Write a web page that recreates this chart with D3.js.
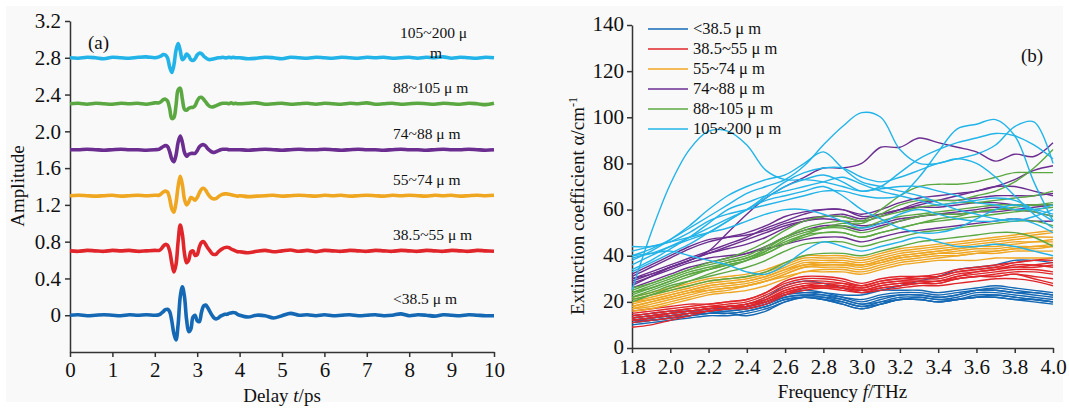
<!DOCTYPE html>
<html>
<head>
<meta charset="utf-8">
<script src="https://cdn.jsdelivr.net/npm/d3@7"></script>
<style>
  body { margin: 0; background: #ffffff; }
  svg text { font-family: "Liberation Serif", "Times New Roman", serif; fill: #111; }
</style>
</head>
<body>
<div id="chart-area"></div>
<script>
// ---------- panel (a): time-domain traces ----------
var delayT = [].concat(d3.range(0, 2.01, 0.2), d3.range(2.1, 4.001, 0.05), d3.range(4.2, 10.001, 0.2));
var traceNames = ["<38.5 μ m", "38.5~55 μ m", "55~74 μ m", "74~88 μ m", "88~105 μ m", "105~200 μ m"];
var baselines = [0, 0.7, 1.3, 1.8, 2.3, 2.8];

var ampBlue = [0,0.005,-0.005,0,0.005,0,-0.005,0.005,0,0.005,0,
  0.005,0.02,0.04,0.06,0.065,0.04,-0.06,-0.2,-0.27,-0.1,0.2,0.31,0.2,-0.05,-0.18,-0.15,-0.02,0.0,-0.06,-0.07,0.03,0.1,0.11,0.08,0.04,0.0,-0.03,-0.04,-0.03,-0.01,0.0,0.01,0.01,0.02,0.025,0.03,0.025,0.01,0.0,
  -0.02,0.0,-0.005,-0.03,-0.005,0.02,0.0,0.005,-0.005,0.005,-0.005,0.0,0.005,-0.005,0.0,0.005,-0.005,0.0,0.015,-0.005,0.005,0.0,-0.01,0.005,0.0,-0.005,0.005,0.0,-0.005,-0.005];
var ampRed = [0,-0.005,0.005,0,-0.005,0.005,0,0.005,-0.005,0,0.005,
  0.005,0.02,0.05,0.07,0.06,0.0,-0.13,-0.23,-0.15,0.1,0.28,0.18,-0.03,-0.13,-0.1,-0.01,0.0,-0.05,-0.04,0.04,0.09,0.1,0.07,0.03,0.0,-0.03,-0.04,-0.035,-0.01,0.01,0.025,0.035,0.04,0.035,0.02,0.01,0.0,-0.01,-0.01,
  -0.02,-0.005,0.005,-0.01,0.0,0.01,-0.005,0.005,-0.01,0.005,0.0,-0.005,0.005,0.0,-0.005,0.005,0.0,-0.005,0.005,0.0,-0.005,0.005,0.0,-0.005,0.005,0.0,-0.005,0.005,0.0,-0.005];
var ampOrange = [0,0.005,0,-0.005,0,0.005,-0.005,0,0.005,0,0.005,
  0.005,0.02,0.04,0.05,0.04,-0.03,-0.14,-0.18,-0.08,0.1,0.21,0.12,-0.04,-0.1,-0.07,-0.02,-0.03,-0.05,-0.02,0.03,0.07,0.08,0.06,0.02,-0.01,-0.03,-0.035,-0.03,-0.01,0.005,0.015,0.02,0.02,0.015,0.01,0.005,0.0,-0.005,0.0,
  -0.01,-0.005,0,0.005,-0.005,0,0.005,0,-0.005,0.005,0,0.005,-0.005,0,0.005,0,-0.005,0.005,0,0.005,0,-0.005,0.005,0,0.005,-0.005,0,0.005,0,0.005];
var ampPurple = [0,0,0.005,0,-0.005,0,0.005,0,0,-0.005,0,
  0.005,0.02,0.035,0.045,0.035,-0.02,-0.1,-0.13,-0.06,0.08,0.15,0.08,-0.03,-0.07,-0.05,-0.04,-0.04,-0.04,-0.01,0.03,0.05,0.055,0.04,0.01,-0.01,-0.025,-0.03,-0.02,-0.01,0.0,0.005,0.005,0.005,0.0,0.0,0.0,0.0,0.0,0.0,
  -0.005,0,0.005,0,-0.005,0,0.005,0,0,0.005,0,-0.005,0,0.005,0,0,-0.005,0,0.005,0,0,-0.005,0,0.005,0,0,0.005,0,-0.005,0];
var ampGreen = [0,0.005,-0.005,0.005,0,-0.005,0.005,0,0.005,-0.005,0.01,
  0.01,0.025,0.045,0.05,0.03,-0.05,-0.16,-0.15,-0.02,0.15,0.17,0.05,-0.06,-0.07,-0.05,-0.04,-0.04,-0.02,0.03,0.065,0.07,0.05,0.02,-0.01,-0.03,-0.035,-0.03,-0.02,-0.01,0.0,0.005,0.005,0.005,0.0,0.01,0.0,0.005,0.0,0.0,
  0.005,0.01,-0.005,0,0.005,-0.005,0,0.005,-0.005,0.005,0,-0.005,0.005,0,0.01,-0.005,0,0.005,-0.005,0,0.005,0,-0.005,0.005,0,-0.005,0.005,0,-0.01,0.005];
var ampCyan = [0,-0.005,0.005,0,-0.01,0.005,0,-0.005,0.005,0.01,0.0,
  0.01,0.02,0.035,0.03,0.0,-0.1,-0.16,-0.08,0.08,0.155,0.08,-0.02,0.0,0.04,0.02,-0.02,-0.03,-0.01,0.03,0.05,0.045,0.02,0.0,-0.015,-0.02,-0.015,-0.01,-0.005,0.0,0.0,0.005,0.0,0.0,0.005,0.0,0.005,0.0,0.0,0.0,
  -0.01,-0.005,0.005,0,-0.01,0.005,0,-0.005,0.005,0,-0.005,0.005,0,-0.005,0.005,0,0.005,-0.005,0,0.005,-0.005,0.005,0,0.01,-0.005,0.005,0,-0.005,0.005,0];
var traces = [ampBlue, ampRed, ampOrange, ampPurple, ampGreen, ampCyan];

var groupColors = ["#1468b4", "#e0262b", "#efa621", "#6b2d90", "#5ba843", "#22b4e8"];

// ---------- panel (b): extinction coefficient ----------
var freqT = d3.range(1.8, 4.001, 0.1);
var extBlue = [
  [11,12,13,14,15,15,16,18,21,22,21,19,17,19,21,21,20,21,23,23,22,21,20],
  [12,13,14,15,16,16,17,19,22,23,22,20,18,20,22,22,21,22,24,24,23,22,21],
  [13,14,15,16,16,17,18,20,23,24,23,21,19,21,23,23,22,23,25,25,24,23,22],
  [14,15,16,16,17,17,18,20,23,25,24,22,20,22,23,23,22,23,25,26,25,24,23],
  [10,11,12,13,14,14,15,17,20,22,21,19,17,19,21,21,20,21,22,22,21,20,19],
  [12,13,14,15,15,15,14,16,20,22,22,21,19,20,21,22,21,21,22,22,21,21,20],
  [13,14,15,16,17,18,19,22,27,29,28,26,24,25,25,25,24,25,26,27,26,25,24],
  [11,12,13,14,15,16,17,19,22,23,23,22,21,23,24,24,23,24,25,25,24,24,23],
  [12,13,14,15,16,17,18,20,23,24,24,23,23,25,27,29,31,34,35,36,38,38,37],
  [12,12,13,14,15,15,16,18,21,22,21,20,18,19,21,21,20,21,22,23,22,21,20]
];
var extRed = [
  [9,10,12,14,16,17,18,21,25,27,27,26,24,26,27,28,28,30,31,32,33,33,32],
  [11,12,13,15,16,17,18,20,24,26,27,26,25,27,28,28,28,30,31,31,32,31,30],
  [13,14,15,16,17,18,19,22,26,28,28,27,26,28,29,29,29,31,32,33,34,34,33],
  [14,15,16,17,18,19,20,23,27,29,29,28,26,28,29,30,30,32,33,34,36,36,35],
  [15,16,17,18,19,20,21,24,28,30,30,29,27,29,30,31,31,33,34,35,37,38,39],
  [12,13,14,15,16,17,17,19,23,26,27,27,25,26,27,28,29,30,31,31,32,30,28],
  [16,17,18,19,19,20,21,24,29,31,31,30,28,30,31,31,32,34,35,36,37,38,38],
  [12,13,15,16,17,18,19,21,24,26,26,25,24,25,26,27,27,28,29,30,30,29,27],
  [14,15,16,17,18,18,19,21,25,27,28,28,27,29,30,30,31,33,34,35,35,36,37],
  [13,14,15,16,17,18,18,20,23,25,26,26,25,27,28,29,29,31,33,34,35,35,36]
];
var extOrange = [
  [16,17,19,21,23,24,25,27,30,33,33,33,32,34,36,37,38,38,38,39,39,39,39],
  [17,19,21,23,25,26,27,29,32,35,35,35,34,36,38,39,40,40,41,41,42,42,42],
  [18,20,22,24,26,27,28,30,33,36,36,36,35,37,39,40,41,42,43,43,44,44,45],
  [19,21,23,25,27,28,29,31,34,37,37,37,36,38,40,41,42,43,44,45,46,46,47],
  [20,22,24,26,28,29,30,32,35,38,38,38,37,39,41,42,43,44,45,46,47,48,48],
  [21,23,25,27,29,30,31,33,36,39,39,39,38,40,42,43,44,45,46,47,48,49,50],
  [22,24,26,28,30,31,32,34,37,40,40,40,39,41,43,44,45,46,47,48,49,50,51],
  [18,20,22,24,25,26,27,29,31,33,34,34,33,35,37,38,39,40,41,42,43,43,44],
  [20,21,23,25,27,28,29,31,34,36,37,37,36,38,40,41,42,43,44,44,45,46,46],
  [17,18,20,22,24,25,27,29,32,35,36,36,36,37,39,40,41,41,42,42,43,44,44]
];
var extPurple = [
  [30,32,35,38,42,50,58,65,70,74,78,78,80,87,87,91,89,87,85,81,84,83,89],
  [30,33,36,39,42,45,48,52,55,58,60,60,58,60,63,65,66,67,68,70,73,77,79],
  [27,31,35,38,41,43,45,48,52,55,57,58,56,58,60,61,61,62,63,63,62,62,62],
  [26,29,32,35,37,39,41,44,48,51,53,53,51,53,55,57,58,59,60,61,60,59,57],
  [32,36,40,44,47,48,49,51,54,56,57,57,55,57,60,63,64,64,65,66,66,66,67],
  [28,31,34,37,39,40,41,43,45,47,48,48,46,48,50,51,52,53,54,55,56,55,55],
  [31,35,39,43,46,48,50,53,57,59,60,60,57,58,60,62,64,66,68,70,70,68,66],
  [29,32,35,38,41,44,47,50,53,55,56,55,53,54,56,57,58,58,59,59,60,61,62]
];
var extGreen = [
  [21,23,25,27,29,30,31,33,37,40,41,41,40,42,44,46,47,48,49,50,50,48,44],
  [22,24,27,29,31,33,35,38,42,45,46,46,44,46,48,50,51,52,53,54,55,55,53],
  [24,26,29,32,34,36,38,41,45,48,50,50,48,50,52,54,55,56,57,58,59,60,61],
  [25,28,31,34,36,38,40,44,48,51,52,52,50,52,55,57,58,58,59,60,61,62,62],
  [20,23,26,29,32,35,38,42,47,50,52,53,52,55,57,58,59,60,61,62,62,62,63],
  [23,26,29,32,34,36,38,41,45,49,52,54,54,58,62,64,64,64,66,68,72,78,86],
  [22,25,28,31,34,37,39,43,48,52,54,55,55,60,66,70,71,71,72,74,76,76,76],
  [26,28,31,34,37,39,42,46,51,55,57,57,55,57,59,61,62,63,63,64,65,66,68],
  [24,27,30,33,35,37,39,42,46,49,50,50,48,50,52,54,56,57,59,60,60,59,57]
];
var extCyan = [
  [25,50,71,86,94,94,88,77,73,73,72,70,68,69,70,70,68,66,63,62,60,60,58],
  [40,43,47,52,57,62,67,70,73,79,88,96,102,100,86,80,80,82,80,74,66,58,52],
  [38,42,47,53,60,66,70,73,75,80,85,78,72,70,68,66,63,60,58,56,55,57,60],
  [44,44,46,50,55,58,60,62,64,66,68,68,66,65,66,74,85,95,97,99,92,72,55],
  [36,40,44,48,52,56,60,66,72,76,78,78,74,72,74,77,80,82,84,88,96,98,80],
  [33,37,41,45,50,55,60,65,70,73,75,72,68,70,76,82,86,89,91,93,92,88,82],
  [40,41,42,40,38,36,33,32,36,42,46,44,42,44,46,48,46,44,44,45,44,42,40],
  [42,44,46,48,50,52,55,58,60,60,58,55,52,54,58,60,58,56,55,55,56,54,50],
  [34,38,43,48,54,60,63,66,68,70,72,74,71,68,66,64,62,63,64,65,64,60,55],
  [39,41,44,47,50,55,60,64,66,68,70,66,60,56,52,50,50,52,56,60,62,60,62]
];
var extGroups = [extBlue, extRed, extOrange, extPurple, extGreen, extCyan];

var W = 1069, H = 408;
var svg = d3.select("#chart-area").append("svg")
  .attr("width", W).attr("height", H);

svg.append("rect").attr("x", 6).attr("y", 6).attr("width", W - 12).attr("height", H - 12)
  .attr("fill", "#f9f9f9");

// ----- panel (a) -----
var xA = d3.scaleLinear().domain([0, 10]).range([70, 494]);
var yA = d3.scaleLinear().domain([-0.4, 3.2]).range([352, 21]);

var axA_x = svg.append("g").attr("transform", "translate(0,352)")
  .call(d3.axisBottom(xA).ticks(10).tickSize(5).tickSizeOuter(0).tickFormat(d3.format("d")));
var axA_y = svg.append("g").attr("transform", "translate(70,0)")
  .call(d3.axisLeft(yA).tickValues([0, 0.4, 0.8, 1.2, 1.6, 2.0, 2.4, 2.8, 3.2]).tickSize(5).tickSizeOuter(0)
    .tickFormat(function (d) { return d === 0 ? "0" : d3.format(".1f")(d); }));

[axA_x, axA_y].forEach(function (g) {
  g.attr("font-family", null).attr("font-size", null);
  g.selectAll("path, line").attr("stroke", "#333").attr("stroke-width", 1.5);
  g.selectAll("text").style("font-family", "Liberation Serif, serif").style("font-size", "21px").attr("fill", "#111");
});
axA_x.selectAll("text").attr("dy", "0.8em");
axA_y.selectAll("text").attr("dx", "-1px");

var lineA = d3.line().curve(d3.curveCatmullRom.alpha(0.5));
traces.forEach(function (vals, i) {
  var pts = vals.map(function (v, k) { return [xA(delayT[k]), yA(baselines[i] + v)]; });
  svg.append("path")
    .attr("d", lineA(pts))
    .attr("fill", "none")
    .attr("stroke", groupColors[i])
    .attr("stroke-width", 3.6)
    .attr("stroke-linejoin", "round");
});

// trace labels
traceNames.forEach(function (name, i) {
  if (i === 5) {
    svg.append("text").attr("x", 400).attr("y", yA(baselines[i]) - 20)
      .style("font-size", "15.5px").text("105~200 μ");
    svg.append("text").attr("x", 430).attr("y", yA(baselines[i]) + 0)
      .style("font-size", "15.5px").text("m");
  } else {
    svg.append("text").attr("x", 393).attr("y", yA(baselines[i]) - 11)
      .style("font-size", "15.5px").text(name);
  }
});

svg.append("text").attr("x", 88).attr("y", 49).style("font-size", "19px").text("(a)");

svg.append("text").attr("x", xA(5)).attr("y", 402).attr("text-anchor", "middle")
  .style("font-size", "19px")
  .html('Delay <tspan font-style="italic">t</tspan>/ps');
svg.append("text").attr("transform", "translate(24,186) rotate(-90)").attr("text-anchor", "middle")
  .style("font-size", "19px").text("Amplitude");

// ----- panel (b) -----
var xB = d3.scaleLinear().domain([1.8, 4.0]).range([632, 1053]);
var yB = d3.scaleLinear().domain([0, 140]).range([348, 25]);

var axB_x = svg.append("g").attr("transform", "translate(0,348)")
  .call(d3.axisBottom(xB).tickValues(d3.range(1.8, 4.001, 0.2)).tickSize(5).tickSizeOuter(0).tickFormat(d3.format(".1f")));
var axB_y = svg.append("g").attr("transform", "translate(632,0)")
  .call(d3.axisLeft(yB).tickValues(d3.range(0, 141, 20)).tickSize(5).tickSizeOuter(0).tickFormat(d3.format("d")));
[axB_x, axB_y].forEach(function (g) {
  g.attr("font-family", null).attr("font-size", null);
  g.selectAll("path, line").attr("stroke", "#333").attr("stroke-width", 1.5);
  g.selectAll("text").style("font-family", "Liberation Serif, serif").style("font-size", "21px").attr("fill", "#111");
});
axB_x.selectAll("text").attr("dy", "0.85em");
axB_y.selectAll("text").attr("dy", "0.28em");

var lineB = d3.line().curve(d3.curveCatmullRom.alpha(0.5));
extGroups.forEach(function (group, gi) {
  group.forEach(function (vals) {
    var pts = vals.map(function (v, k) { return [xB(freqT[k]), yB(v)]; });
    svg.append("path")
      .attr("d", lineB(pts))
      .attr("fill", "none")
      .attr("stroke", groupColors[gi])
      .attr("stroke-width", 1.4);
  });
});

// legend
var legend = svg.append("g").attr("transform", "translate(648,29)");
traceNames.forEach(function (name, i) {
  legend.append("line").attr("x1", 0).attr("x2", 40).attr("y1", i * 20).attr("y2", i * 20)
    .attr("stroke", groupColors[i]).attr("stroke-width", 1.5);
  legend.append("text").attr("x", 45).attr("y", i * 20 + 5).style("font-size", "16.5px").text(name);
});

svg.append("text").attr("x", 1021).attr("y", 62).style("font-size", "19px").text("(b)");

svg.append("text").attr("x", xB(2.9)).attr("y", 398).attr("text-anchor", "middle")
  .style("font-size", "19px")
  .html('Frequency <tspan font-style="italic">f</tspan>/THz');
svg.append("text").attr("transform", "translate(584,206) rotate(-90)").attr("text-anchor", "middle")
  .style("font-size", "19px")
  .html('Extinction coefficient α/cm<tspan dy="-7" font-size="12px">-1</tspan>');
</script>
</body>
</html>
